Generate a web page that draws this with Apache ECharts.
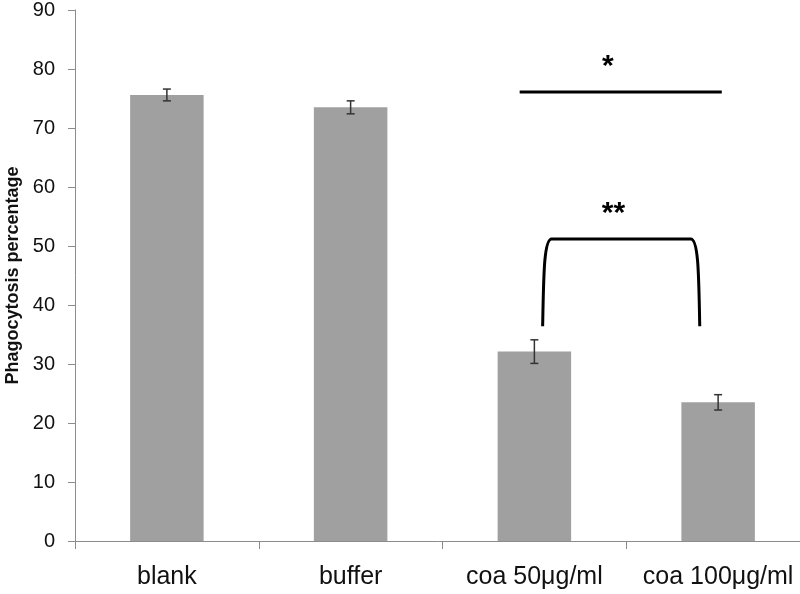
<!DOCTYPE html>
<html>
<head>
<meta charset="utf-8">
<title>Phagocytosis percentage</title>
<script src="https://cdn.jsdelivr.net/npm/echarts@6/dist/echarts.min.js"></script>
<style>
  html, body { margin: 0; padding: 0; background: #fff; }
  #chart { width: 800px; height: 594px; }
</style>
</head>
<body>
<div id="chart"></div>
<script>
// data
const categories = ['blank', 'buffer', 'coa 50μg/ml', 'coa 100μg/ml']
const means = [75.6, 73.5, 32.1, 23.5]
const errors = [1.0, 1.1, 2.0, 1.3]
const yMin = 0
const yMax = 90
const yStep = 10

// significance marks: category index + offset (in category widths) and values
const starLine = { from: [2, -0.08], to: [3, 0.02], value: 76.1, text: '*', textAt: [2, 0.4], textValue: 80.3 }
const bracket = { from: [2, 0.045], to: [3, -0.1], top: 51.2, base: 36.4, text: '**', textAt: [2, 0.43], textValue: 55.4 }

const font = 'Liberation Sans, Arial, sans-serif'
const chart = echarts.init(document.getElementById('chart'))

function xAt (api, pos) {
  return api.coord([pos[0], 0])[0] + pos[1] * api.size([1, 0])[0]
}

chart.setOption({
  animation: false,
  grid: { left: 75, top: 10, width: 735, bottom: 53, outerBoundsMode: 'none', containLabel: false },
  xAxis: {
    type: 'category',
    data: categories,
    axisLine: { lineStyle: { color: '#8c8c8c', width: 1 } },
    axisTick: { show: true, interval: 0, length: 8, lineStyle: { color: '#8c8c8c' } },
    axisLabel: { color: '#111', fontFamily: font, fontSize: 25, margin: 24, interval: 0, hideOverlap: false }
  },
  yAxis: {
    type: 'value',
    min: yMin,
    max: yMax,
    interval: yStep,
    name: 'Phagocytosis percentage',
    nameLocation: 'middle',
    nameGap: 52,
    nameTextStyle: { color: '#111', fontFamily: font, fontSize: 18, fontWeight: 'bold' },
    axisLine: { show: true, lineStyle: { color: '#8c8c8c', width: 1 } },
    axisTick: { show: true, length: 7, lineStyle: { color: '#8c8c8c' } },
    axisLabel: { color: '#111', fontFamily: font, fontSize: 20, margin: 20 },
    splitLine: { show: false }
  },
  series: [
    {
      type: 'bar',
      data: means,
      barWidth: '40%',
      itemStyle: { color: '#a0a0a0' }
    },
    {
      // error bars
      type: 'custom',
      data: means.map((m, i) => [i, m - errors[i], m + errors[i]]),
      renderItem (params, api) {
        const lo = api.coord([api.value(0), api.value(1)])
        const hi = api.coord([api.value(0), api.value(2)])
        const w = 4
        const style = { stroke: '#333', lineWidth: 1.5 }
        return {
          type: 'group',
          children: [
            { type: 'line', shape: { x1: lo[0], y1: lo[1], x2: hi[0], y2: hi[1] }, style },
            { type: 'line', shape: { x1: lo[0] - w, y1: lo[1], x2: lo[0] + w, y2: lo[1] }, style },
            { type: 'line', shape: { x1: hi[0] - w, y1: hi[1], x2: hi[0] + w, y2: hi[1] }, style }
          ]
        }
      },
      z: 5
    },
    {
      // significance annotations
      type: 'custom',
      data: [0],
      renderItem (params, api) {
        const sx1 = xAt(api, starLine.from)
        const sx2 = xAt(api, starLine.to)
        const sy = api.coord([0, starLine.value])[1]
        const bx1 = xAt(api, bracket.from)
        const bx2 = xAt(api, bracket.to)
        const by = api.coord([0, bracket.top])[1]
        const bb = api.coord([0, bracket.base])[1]
        const path = 'M' + bx1 + ',' + bb +
          ' C' + (bx1 + 1) + ',' + (by + 40) + ' ' + (bx1 + 1) + ',' + by + ' ' + (bx1 + 9) + ',' + by +
          ' L' + (bx2 - 9) + ',' + by +
          ' C' + (bx2 - 1) + ',' + by + ' ' + (bx2 - 1) + ',' + (by + 40) + ' ' + bx2 + ',' + bb
        const txt = (t, pos, v) => ({
          type: 'text',
          style: {
            text: t,
            x: xAt(api, pos),
            y: api.coord([0, v])[1],
            fill: '#000',
            font: 'bold 30px ' + font,
            textAlign: 'center',
            textVerticalAlign: 'middle'
          }
        })
        return {
          type: 'group',
          children: [
            { type: 'line', shape: { x1: sx1, y1: sy, x2: sx2, y2: sy }, style: { stroke: '#000', lineWidth: 3 } },
            { type: 'path', shape: { pathData: path }, style: { stroke: '#000', fill: null, lineWidth: 3 } },
            txt(starLine.text, starLine.textAt, starLine.textValue),
            txt(bracket.text, bracket.textAt, bracket.textValue)
          ]
        }
      },
      z: 6
    }
  ]
})
</script>
</body>
</html>
